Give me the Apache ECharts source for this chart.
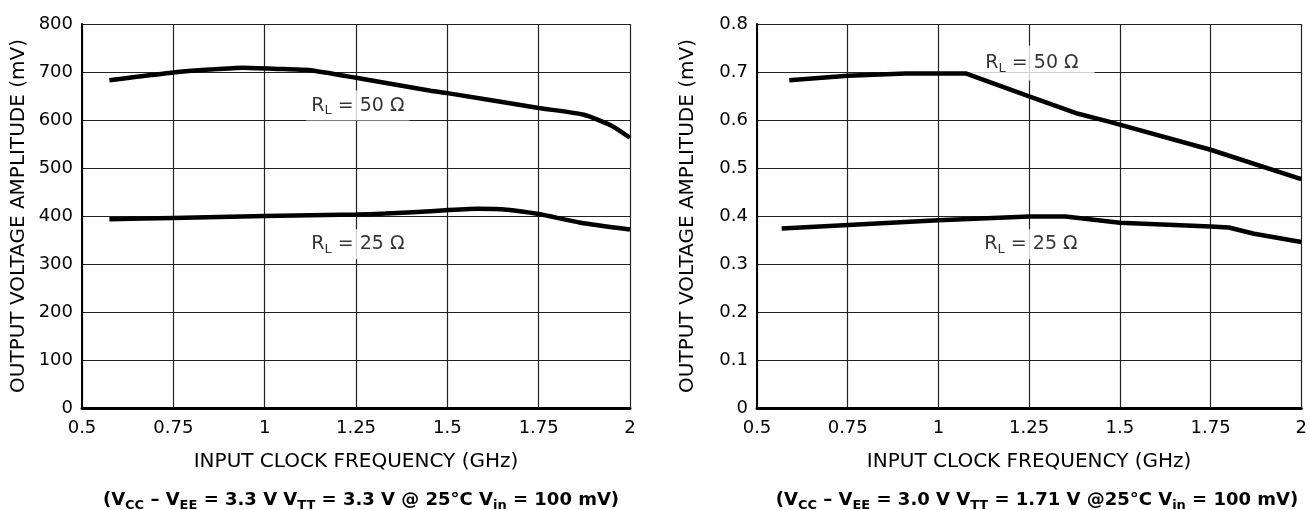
<!DOCTYPE html>
<html>
<head>
<meta charset="utf-8">
<script src="https://cdn.jsdelivr.net/npm/echarts@6/dist/echarts.min.js"></script>
<style>
html,body{margin:0;padding:0;background:#fff;}
#chart{width:1310px;height:510px;}
</style>
</head>
<body>
<div id="chart"></div>
<script>
// ---- data ----
// Left chart: VCC-VEE = 3.3 V, VTT = 3.3 V  (mV)
const leftFreq50 = [0.575, 0.65, 0.75, 0.85, 0.94, 1.05, 1.12, 1.25, 1.454, 1.5, 1.75, 1.874, 1.947, 2.0];
const leftAmp50  = [683, 690, 699, 705, 709, 706, 704, 688, 661, 656, 625, 611, 589, 563];
const leftFreq25 = [0.575, 0.75, 1.0, 1.25, 1.33, 1.454, 1.582, 1.664, 1.75, 1.865, 2.0];
const leftAmp25  = [393, 396, 400, 403, 405, 410, 415, 413, 404, 386, 372];
// Right chart: VCC-VEE = 3.0 V, VTT = 1.71 V
const rightFreq50 = [0.589, 0.75, 0.91, 1.075, 1.25, 1.385, 1.467, 1.75, 2.0];
const rightAmp50  = [0.683, 0.692, 0.697, 0.697, 0.649, 0.613, 0.597, 0.538, 0.477];
const rightFreq25 = [0.568, 1.0, 1.25, 1.35, 1.5, 1.75, 1.80, 1.87, 2.0];
const rightAmp25  = [0.374, 0.391, 0.399, 0.399, 0.386, 0.378, 0.376, 0.363, 0.346];
// curve labels
const leftLabels  = [{x: 1.255, y: 630, text: '50'}, {x: 1.255, y: 341, text: '25'}];
const rightLabels = [{x: 1.255, y: 0.719, text: '50'}, {x: 1.255, y: 0.341, text: '25'}];
// axes
const xTicks = { min: 0.5, max: 2, interval: 0.25 };
const leftY  = { min: 0, max: 800, interval: 100 };
const rightY = { min: 0, max: 0.8, interval: 0.1 };
const xTitle = 'INPUT CLOCK FREQUENCY (GHz)';
const yTitle = 'OUTPUT VOLTAGE AMPLITUDE (mV)';
const leftCond  = '(V{s|CC} – V{s|EE} = 3.3 V V{s|TT} = 3.3 V @ 25°C V{s|in} = 100 mV)';
const rightCond = '(V{s|CC} – V{s|EE} = 3.0 V V{s|TT} = 1.71 V @25°C V{s|in} = 100 mV)';

// ---- build ----
const FONT = 'DejaVu Sans';
const zip = (a, b) => a.map((v, i) => [v, b[i]]);

function xAxis(gi) {
  return {
    type: 'value', gridIndex: gi, min: xTicks.min, max: xTicks.max, interval: xTicks.interval,
    name: xTitle, nameLocation: 'middle', nameGap: 44,
    nameTextStyle: { fontFamily: FONT, fontSize: 20, color: '#000' },
    axisLine: { show: true, onZero: false, lineStyle: { color: '#000', width: 3 } },
    axisTick: { show: false },
    axisLabel: { fontFamily: FONT, fontSize: 18, color: '#000', margin: 11 },
    splitLine: { show: true, lineStyle: { color: '#222', width: 1.2 } }
  };
}
function yAxis(gi, cfg, gap, fmt) {
  return {
    type: 'value', gridIndex: gi, min: cfg.min, max: cfg.max, interval: cfg.interval,
    name: yTitle, nameLocation: 'middle', nameGap: gap,
    nameTextStyle: { fontFamily: FONT, fontSize: 20, color: '#000' },
    axisLine: { show: true, lineStyle: { color: '#000', width: 2 } },
    axisTick: { show: false },
    axisLabel: { fontFamily: FONT, fontSize: 18, color: '#000', margin: 9, formatter: fmt },
    splitLine: { show: true, lineStyle: { color: '#222', width: 1.2 } }
  };
}
function curve(gi, xs, ys, smooth) {
  return {
    type: 'line', xAxisIndex: gi, yAxisIndex: gi, data: zip(xs, ys),
    showSymbol: false, smooth: smooth, z: 5,
    lineStyle: { color: '#000', width: 4.5 }
  };
}
function labelSeries(gi, labels, pads) {
  return {
    type: 'scatter', xAxisIndex: gi, yAxisIndex: gi, z: 3, symbolSize: 0,
    data: labels.map((l, i) => ({
      value: [l.x, l.y],
      label: {
        show: true, position: 'inside',
        formatter: '{r|R}{s|L}{r| = ' + l.text + ' Ω}',
        backgroundColor: '#fff', padding: pads[i],
        rich: {
          r: { fontFamily: FONT, fontSize: 19, color: '#000' },
          s: { fontFamily: FONT, fontSize: 13, color: '#000', padding: [11, 0, 0, 0] }
        }
      }
    }))
  };
}
function condTitle(text, cx) {
  return {
    text: text, left: cx, top: 484, textAlign: 'center',
    textStyle: {
      fontFamily: FONT, fontSize: 18, fontWeight: 'bold', color: '#000',
      rich: {
        s: { fontFamily: FONT, fontSize: 13, fontWeight: 'bold', color: '#000', padding: [10, 0, 0, 0] }
      }
    }
  };
}

const chart = echarts.init(document.getElementById('chart'), null, { renderer: 'canvas' });
chart.setOption({
  backgroundColor: '#fff',
  animation: false,
  title: [condTitle(leftCond, 356), condTitle(rightCond, 1032)],
  grid: [
    { left: 82, top: 24, width: 548, height: 384 },
    { left: 757, top: 24, width: 548, height: 384 }
  ],
  xAxis: [xAxis(0), xAxis(1)],
  yAxis: [
    yAxis(0, leftY, 53, v => String(v)),
    yAxis(1, rightY, 59, v => (v === 0 ? '0' : v.toFixed(1)))
  ],
  series: [
    curve(0, leftFreq50, leftAmp50, 0.2),
    curve(0, leftFreq25, leftAmp25, 0.2),
    curve(1, rightFreq50, rightAmp50, false),
    curve(1, rightFreq25, rightAmp25, false),
    labelSeries(0, leftLabels, [[3, 5, 3, 5], [3, 5, 3, 5]]),
    labelSeries(1, rightLabels, [[6, 16, 5, 18], [3, 5, 3, 5]])
  ]
});
</script>
</body>
</html>
